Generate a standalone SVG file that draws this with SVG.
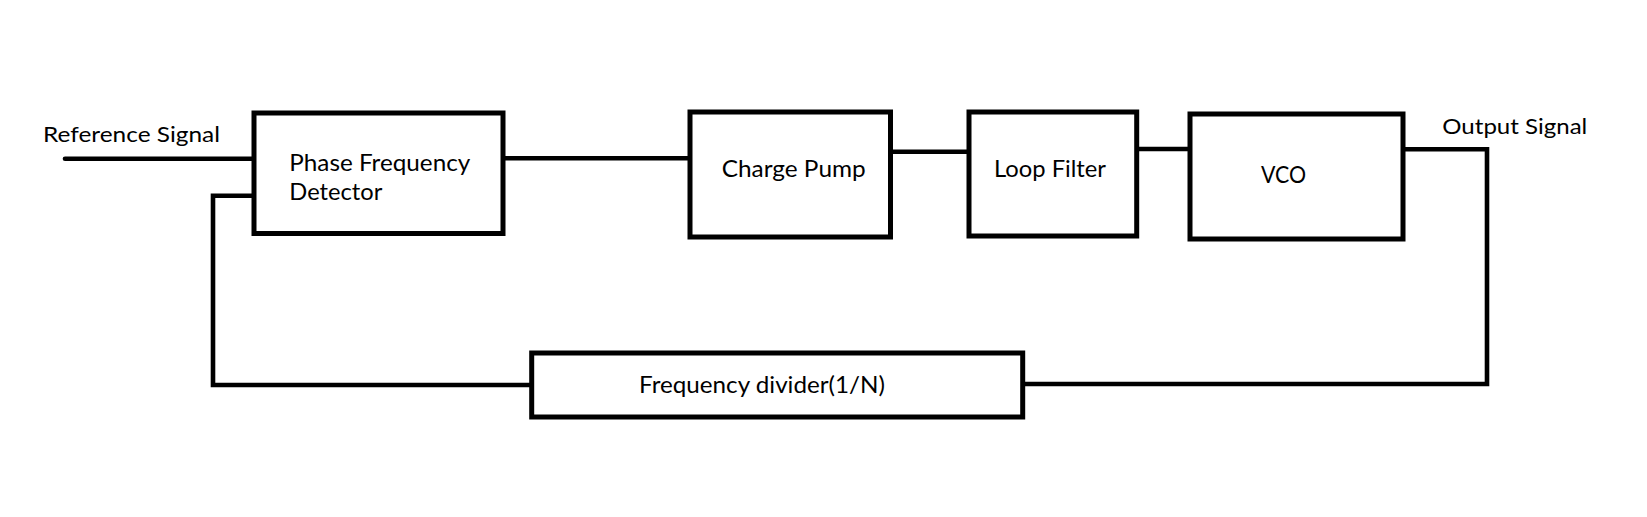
<svg xmlns="http://www.w3.org/2000/svg" width="1647" height="517" viewBox="0 0 1647 517">
<style>
.box{fill:#fff;stroke:#000;stroke-width:5}
.wire{fill:none;stroke:#000;stroke-width:4.6;stroke-linecap:round;stroke-linejoin:miter}
.lbl{font-family:Lato,"Open Sans",sans-serif;fill:#000}
.side{font-size:22px}
.inb{font-size:23.5px}
</style>
<rect width="1647" height="517" fill="#fff"/>
<g id="connectors">
<path class="wire" d="M65,158.7 H252"/>
<path class="wire" d="M503,158.3 H690"/>
<path class="wire" d="M890.5,151.7 H969"/>
<path class="wire" d="M1136.7,149 H1190"/>
<path class="wire" d="M1403,149.3 H1487 V384 H1022.5"/>
<path class="wire" d="M531.7,385 H213 V195.7 H252"/>
</g>
<g id="pfd">
<rect class="box" x="254" y="113" width="249" height="120.5"/>
<text class="lbl inb" x="289.3" y="171.3" textLength="181" lengthAdjust="spacingAndGlyphs">Phase Frequency</text>
<text class="lbl inb" x="289.3" y="200.2" textLength="93" lengthAdjust="spacingAndGlyphs">Detector</text>
</g>
<g id="charge-pump">
<rect class="box" x="690" y="112" width="200.5" height="125"/>
<text class="lbl inb" x="721.7" y="176.7" textLength="144" lengthAdjust="spacingAndGlyphs">Charge Pump</text>
</g>
<g id="loop-filter">
<rect class="box" x="969" y="112" width="167.7" height="124"/>
<text class="lbl inb" x="994" y="176.7" textLength="112" lengthAdjust="spacingAndGlyphs">Loop Filter</text>
</g>
<g id="vco">
<rect class="box" x="1190" y="114" width="213" height="125"/>
<text class="lbl inb" x="1261" y="183.3" textLength="45" lengthAdjust="spacingAndGlyphs">VCO</text>
</g>
<g id="divider">
<rect class="box" x="531.7" y="353" width="491" height="64"/>
<text class="lbl inb" x="639" y="393.3" textLength="246" lengthAdjust="spacingAndGlyphs">Frequency divider(1/N)</text>
</g>
<g id="labels">
<text class="lbl side" x="43" y="141.7" textLength="177" lengthAdjust="spacingAndGlyphs">Reference Signal</text>
<text class="lbl side" x="1442.3" y="134.3" textLength="145" lengthAdjust="spacingAndGlyphs">Output Signal</text>
</g>
</svg>
